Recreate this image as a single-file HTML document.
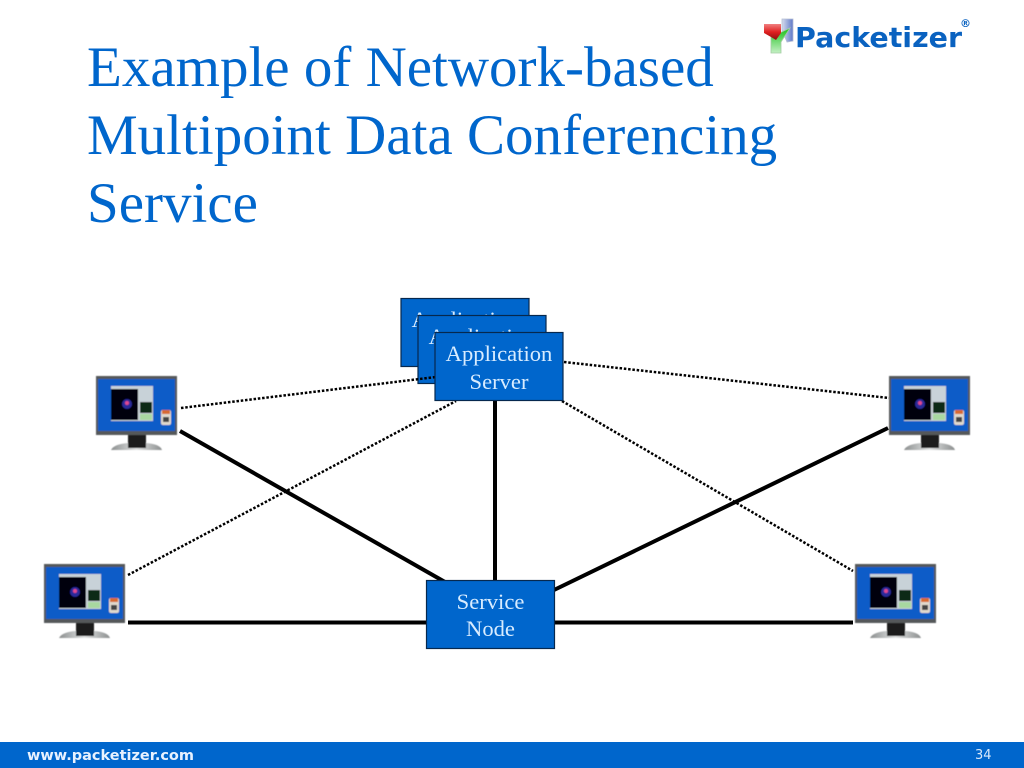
<!DOCTYPE html>
<html>
<head>
<meta charset="utf-8">
<style>
html,body{margin:0;padding:0;background:#fff;width:1024px;height:768px;overflow:hidden}
svg{display:block}
.t{font-family:"Liberation Serif",serif;fill:#0066cc;font-size:57px}
.b{font-family:"Liberation Serif",serif;fill:#d8ecff;font-size:22.600px;text-anchor:middle}
</style>
</head>
<body>
<svg width="1024" height="768" viewBox="0 0 1024 768" xmlns="http://www.w3.org/2000/svg">
<defs>
<filter id="s" x="-5%" y="-5%" width="110%" height="110%"><feGaussianBlur stdDeviation="0.500"/></filter>
<linearGradient id="gb" x1="0" y1="0" x2="1" y2="0"><stop offset="0" stop-color="#d5dced"/><stop offset="1" stop-color="#5f78c8"/></linearGradient>
<linearGradient id="gg" x1="0" y1="0" x2="0" y2="1"><stop offset="0" stop-color="#18c018"/><stop offset="1" stop-color="#c4f0c4"/></linearGradient>
<linearGradient id="gr" x1="0" y1="0" x2="0" y2="1"><stop offset="0" stop-color="#f08080"/><stop offset="0.500" stop-color="#e02020"/><stop offset="1" stop-color="#8c1010"/></linearGradient>
<linearGradient id="gs" x1="0" y1="0" x2="1" y2="0"><stop offset="0" stop-color="#8b8e8e"/><stop offset="0.500" stop-color="#e2e4e4"/><stop offset="1" stop-color="#8b8e8e"/></linearGradient>
<g id="m" filter="url(#s)">
<path d="M15 74 Q18 68 32 67 L50 67 Q64 68 66 74 Z" fill="url(#gs)"/>
<rect x="32" y="58" width="18" height="14" fill="#1a1a1a"/>
<rect x="0" y="0" width="81" height="59" fill="#54585a"/>
<rect x="2" y="3" width="77" height="52" fill="#0a5cc8"/>
<rect x="15" y="10" width="42" height="35" fill="#c8d2d8"/>
<rect x="15" y="13" width="27" height="31" fill="#02020e"/>
<circle cx="31" cy="28" r="5" fill="#2a2a9a"/>
<circle cx="31" cy="27" r="2" fill="#e04a90"/>
<rect x="44" y="26" width="12" height="11" fill="#0c2a18"/>
<rect x="44" y="38" width="12" height="6" fill="#a8d8a0"/>
<rect x="65" y="34" width="10" height="15" rx="2" fill="#e0d8cc"/>
<rect x="66" y="34" width="8" height="4" fill="#d86a30"/>
<rect x="67" y="41" width="6" height="5" fill="#444"/>
</g>
</defs>

<text class="t" x="87" y="86">Example of Network-based</text>
<text class="t" x="87" y="154">Multipoint Data Conferencing</text>
<text class="t" x="87" y="222">Service</text>

<!-- logo -->
<polygon points="782,19 793,19 793,41 787,42 782,30" fill="url(#gb)" stroke="#b4bcd4" stroke-width="0.800"/>
<polygon points="771,37 790,28 781,42 781,53 771,53" fill="url(#gg)" stroke="#a4cca4" stroke-width="0.800"/>
<polygon points="764,24 781,24 781,33 776,40 771,37 764,33" fill="url(#gr)"/>
<text x="795" y="47" font-family="'DejaVu Sans',sans-serif" font-weight="700" font-size="28" fill="#0a62c0" textLength="167" lengthAdjust="spacingAndGlyphs">Packetizer</text>
<text x="960" y="27" font-family="'DejaVu Sans',sans-serif" font-weight="700" font-size="11" fill="#0a62c0">®</text>

<!-- dotted lines -->
<g stroke="#000" stroke-width="2.500" stroke-dasharray="2.500 1.800" fill="none">
<line x1="564" y1="362" x2="889" y2="398"/>
<line x1="128" y1="575" x2="456" y2="401"/>
<line x1="562" y1="401" x2="853" y2="571"/>
</g>
<!-- solid lines -->
<g stroke="#000" stroke-width="4" fill="none">
<line x1="180" y1="431" x2="445" y2="582"/>
<line x1="495" y1="400" x2="495" y2="581"/>
<line x1="554" y1="590" x2="888" y2="428"/>
<line x1="128" y1="622.500" x2="427" y2="622.500"/>
<line x1="554" y1="622.500" x2="853" y2="622.500"/>
</g>

<use href="#m" x="96" y="376"/>
<use href="#m" x="889" y="376"/>
<use href="#m" x="44" y="564"/>
<use href="#m" x="855" y="564"/>

<!-- application servers -->
<rect x="401" y="298.500" width="128" height="68" fill="#0066cc" stroke="#06284e" stroke-width="1.200"/>
<text class="b" x="465" y="327">Application</text>
<rect x="418" y="315.500" width="128" height="68" fill="#0066cc" stroke="#06284e" stroke-width="1.200"/>
<text class="b" x="482" y="344">Application</text>
<line x1="181" y1="408" x2="436" y2="377" stroke="#000" stroke-width="2.500" stroke-dasharray="2.500 1.800"/>
<rect x="435" y="332.500" width="128" height="68" fill="#0066cc" stroke="#06284e" stroke-width="1.200"/>
<text class="b" x="499" y="361">Application</text>
<text class="b" x="499" y="389">Server</text>

<!-- service node -->
<rect x="426.500" y="580.500" width="128" height="68" fill="#0066cc" stroke="#06284e" stroke-width="1.200"/>
<text class="b" x="490.500" y="609">Service</text>
<text class="b" x="490.500" y="636">Node</text>

<!-- footer -->
<rect x="0" y="742" width="1024" height="26" fill="#0066cc"/>
<text x="27" y="760" font-family="'DejaVu Sans',sans-serif" font-weight="700" font-size="14" fill="#e8f2ff" textLength="167" lengthAdjust="spacingAndGlyphs">www.packetizer.com</text>
<text x="975" y="759" font-family="'DejaVu Sans',sans-serif" font-size="13" fill="#d8e8fa">34</text>
</svg>
</body>
</html>
